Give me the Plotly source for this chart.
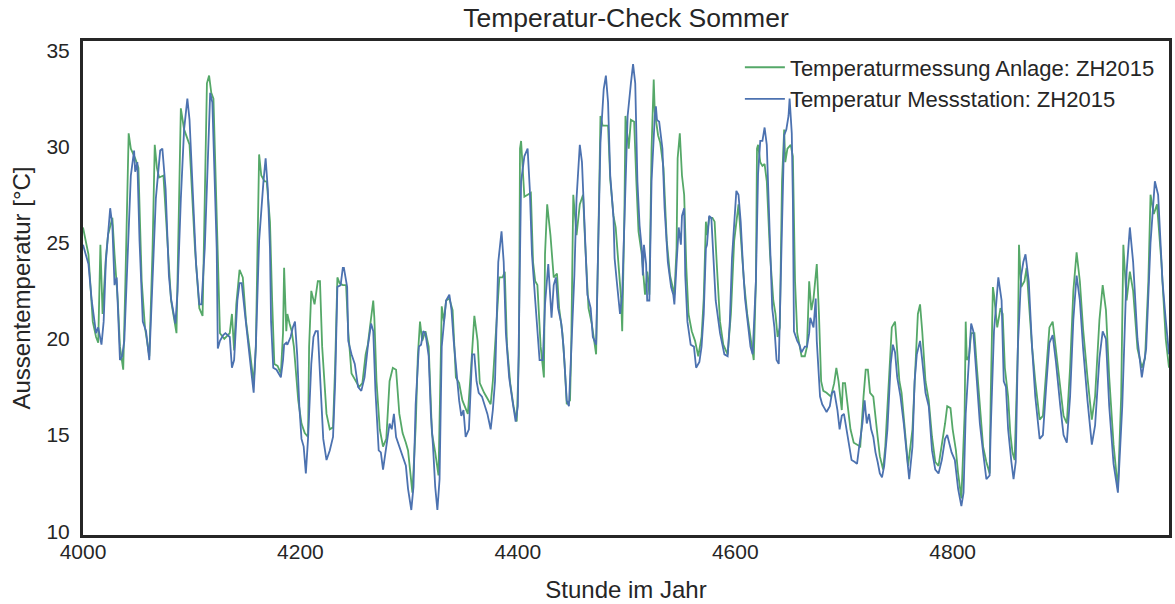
import plotly.graph_objects as go

# Temperaturmessung Anlage (green) -- hour of year / temperature
hours_anlage = [
    4000, 4005, 4009, 4012, 4014, 4016, 4018, 4021, 4023, 4027, 4029, 4032, 4034, 4037, 4039,
    4042, 4044, 4048, 4051, 4054, 4057, 4061, 4064, 4066, 4068, 4070, 4074, 4077, 4081, 4086,
    4088, 4090, 4093, 4095, 4098, 4103, 4107, 4110, 4113, 4114, 4116, 4118, 4120, 4122, 4124,
    4126, 4130, 4135, 4137, 4139, 4141, 4144, 4147, 4150, 4153, 4157, 4159, 4161, 4162, 4164,
    4167, 4169, 4172, 4174, 4176, 4179, 4182, 4184, 4185, 4187, 4188, 4190, 4192, 4194, 4198,
    4201, 4204, 4207, 4208, 4210, 4213, 4216, 4218, 4220, 4224, 4227, 4230, 4232, 4234, 4236,
    4239, 4242, 4244, 4247, 4249, 4254, 4257, 4260, 4262, 4265, 4267, 4268, 4270, 4273, 4276,
    4279, 4282, 4285, 4288, 4291, 4294, 4297, 4299, 4303, 4306, 4308, 4310, 4312, 4315, 4318,
    4321, 4324, 4327, 4329, 4330, 4332, 4334, 4337, 4340, 4343, 4346, 4349, 4354, 4357, 4360,
    4363, 4365, 4369, 4373, 4375, 4377, 4380, 4383, 4386, 4388, 4390, 4393, 4396, 4399, 4401,
    4402, 4403, 4406, 4409, 4412, 4414, 4416, 4418, 4421, 4424, 4425, 4427, 4430, 4433, 4436,
    4438, 4441, 4443, 4445, 4448, 4449, 4451, 4452, 4454, 4457, 4460, 4462, 4465, 4468, 4471,
    4472, 4475, 4476, 4478, 4479, 4483, 4485, 4488, 4490, 4492, 4495, 4496, 4498, 4499, 4501,
    4502, 4504, 4507, 4509, 4511, 4514, 4516, 4517, 4519, 4521, 4523, 4525, 4526, 4529, 4531,
    4534, 4537, 4540, 4544, 4546, 4547, 4549, 4551, 4553, 4555, 4557, 4560, 4563, 4566, 4569,
    4571, 4573, 4574, 4576, 4579, 4581, 4583, 4586, 4589, 4593, 4596, 4599, 4603, 4605, 4608,
    4611, 4614, 4617, 4619, 4620, 4621, 4623, 4625, 4627, 4629, 4632, 4635, 4637, 4639, 4641,
    4643, 4645, 4646, 4648, 4651, 4653, 4655, 4657, 4659, 4661, 4664, 4666, 4668, 4670, 4672,
    4675, 4677, 4679, 4681, 4684, 4688, 4691, 4693, 4695, 4698, 4699, 4701, 4703, 4706, 4709,
    4712, 4715, 4718, 4720, 4722, 4724, 4727, 4729, 4731, 4733, 4736, 4738, 4741, 4744, 4747,
    4751, 4753, 4756, 4759, 4763, 4766, 4768, 4770, 4772, 4775, 4778, 4781, 4784, 4787, 4790,
    4793, 4795, 4798, 4800, 4803, 4805, 4808, 4811, 4812, 4813, 4815, 4817, 4820, 4822, 4825,
    4828, 4831, 4834, 4835, 4837, 4838, 4841, 4844, 4846, 4848, 4851, 4853, 4855, 4857, 4860,
    4861, 4863, 4866, 4868, 4870, 4873, 4876, 4880, 4883, 4886, 4889, 4892, 4895, 4899, 4902,
    4905, 4908, 4911, 4914, 4917, 4920, 4924, 4928, 4931, 4935, 4938, 4941, 4944, 4948, 4952,
    4955, 4957, 4960, 4963, 4966, 4970, 4974, 4977, 4980, 4982, 4985, 4988, 4992, 4996, 4999,
]
temp_anlage = [
    25.8, 24.4, 20.9, 20.1, 19.8, 24.9, 21.3, 24.2, 25.4, 26.3, 24.4, 22.0, 19.6, 18.4, 23.0,
    30.7, 29.9, 29.4, 28.9, 23.0, 20.6, 19.1, 24.7, 30.1, 28.9, 28.4, 28.5, 25.6, 22.0, 20.3,
    26.4, 32.0, 30.9, 30.6, 30.1, 24.7, 21.6, 21.2, 29.0, 33.3, 33.7, 32.8, 32.5, 28.2, 24.2,
    20.3, 20.0, 20.3, 21.3, 19.4, 21.8, 23.6, 23.2, 20.9, 19.6, 17.7, 19.6, 25.8, 29.6, 28.5,
    28.2, 28.2, 26.1, 22.0, 18.7, 18.6, 18.2, 20.3, 23.7, 20.4, 21.3, 20.8, 20.4, 19.6, 16.8,
    15.6, 15.1, 14.9, 19.6, 22.5, 21.8, 23.0, 23.0, 19.6, 16.1, 15.3, 15.4, 18.7, 23.2, 22.9,
    22.8, 22.8, 20.4, 18.2, 18.0, 17.5, 17.7, 19.2, 19.7, 21.3, 22.0, 21.1, 17.8, 15.3, 14.4,
    14.8, 17.8, 18.5, 18.4, 16.1, 15.1, 14.6, 14.2, 12.0, 15.4, 19.1, 20.9, 19.9, 20.4, 19.6,
    15.1, 14.1, 12.9, 18.7, 21.7, 20.9, 22.0, 22.1, 21.5, 18.0, 17.7, 16.8, 16.1, 18.5, 21.2,
    19.9, 17.7, 17.2, 16.8, 16.6, 17.8, 20.6, 23.2, 23.2, 23.5, 19.7, 17.7, 16.5, 15.7, 19.2,
    29.9, 30.3, 27.4, 27.5, 27.6, 24.0, 23.0, 22.8, 19.6, 18.0, 24.4, 27.0, 25.4, 23.2, 23.4,
    21.6, 20.3, 18.7, 16.6, 16.8, 19.1, 27.5, 26.6, 25.4, 27.0, 27.5, 24.9, 21.6, 20.8, 19.6,
    19.2, 28.2, 31.6, 31.1, 31.1, 31.1, 28.3, 26.4, 25.8, 24.4, 22.1, 20.4, 26.4, 31.6, 30.4,
    29.9, 31.4, 31.3, 28.2, 25.6, 24.4, 23.0, 22.3, 23.5, 22.3, 29.9, 33.5, 31.8, 30.6, 30.2,
    28.9, 25.1, 23.3, 22.3, 24.7, 29.4, 30.7, 28.5, 27.5, 23.7, 21.3, 20.4, 19.9, 19.1, 20.1,
    22.1, 26.1, 25.4, 26.3, 26.3, 26.1, 23.9, 20.9, 19.7, 19.2, 21.3, 25.1, 27.0, 25.4, 23.0,
    21.3, 20.1, 18.9, 23.0, 29.9, 30.1, 29.2, 29.0, 29.1, 28.2, 24.4, 22.0, 21.3, 20.1, 20.6,
    28.2, 30.9, 29.2, 29.9, 30.1, 29.5, 23.0, 20.3, 19.7, 19.1, 19.1, 19.6, 23.0, 21.5, 22.1,
    23.9, 21.3, 17.8, 17.3, 17.2, 17.0, 17.7, 18.5, 17.8, 16.3, 17.7, 17.7, 16.8, 15.3, 14.6,
    14.5, 14.4, 17.0, 18.4, 18.4, 17.2, 17.0, 16.1, 14.9, 13.9, 13.2, 14.4, 17.8, 20.6, 20.9,
    17.8, 17.2, 15.3, 13.4, 15.3, 18.7, 21.3, 21.8, 20.4, 17.8, 16.8, 14.9, 13.6, 13.4, 14.4,
    15.6, 16.5, 16.4, 15.3, 14.2, 13.0, 11.7, 16.1, 20.9, 18.9, 19.1, 20.3, 20.3, 18.7, 16.5,
    14.4, 13.6, 13.0, 17.0, 22.7, 22.3, 20.6, 21.6, 21.3, 18.5, 17.0, 15.1, 14.1, 13.7, 19.6,
    24.9, 22.7, 23.0, 23.7, 22.0, 19.6, 17.8, 15.8, 16.0, 18.5, 20.6, 20.9, 19.5, 17.5, 16.0,
    15.6, 18.5, 22.5, 24.5, 23.0, 20.5, 18.0, 15.8, 17.0, 21.0, 22.8, 21.5, 18.0, 14.5, 12.2,
    17.0, 24.9, 22.0, 23.5, 22.5, 19.5, 18.5, 19.0, 23.0, 27.5, 26.5, 27.0, 24.0, 20.0, 18.5,
]

# Temperatur Messstation (blue)
hours_station = [
    4000, 4005, 4008, 4012, 4014, 4017, 4019, 4021, 4025, 4027, 4029, 4031, 4034, 4036, 4038,
    4041, 4044, 4047, 4048, 4050, 4052, 4055, 4058, 4061, 4064, 4067, 4071, 4073, 4076, 4079,
    4081, 4085, 4087, 4090, 4093, 4096, 4098, 4101, 4104, 4107, 4109, 4112, 4115, 4117, 4119,
    4120, 4123, 4124, 4126, 4129, 4131, 4135, 4137, 4139, 4142, 4144, 4146, 4149, 4152, 4155,
    4157, 4159, 4162, 4165, 4166, 4168, 4170, 4172, 4173, 4175, 4178, 4180, 4182, 4184, 4185,
    4187, 4188, 4191, 4193, 4195, 4197, 4199, 4201, 4203, 4205, 4207, 4210, 4212, 4214, 4216,
    4219, 4221, 4224, 4227, 4230, 4232, 4234, 4237, 4239, 4240, 4243, 4244, 4247, 4250, 4253,
    4256, 4259, 4262, 4265, 4267, 4269, 4272, 4274, 4276, 4279, 4282, 4284, 4286, 4288, 4291,
    4294, 4297, 4299, 4302, 4304, 4306, 4309, 4311, 4313, 4315, 4318, 4320, 4322, 4324, 4326,
    4328, 4330, 4332, 4334, 4337, 4339, 4341, 4344, 4346, 4348, 4350, 4352, 4355, 4358, 4360,
    4362, 4364, 4367, 4370, 4372, 4375, 4377, 4379, 4380, 4382, 4385, 4387, 4389, 4392, 4395,
    4398, 4400, 4402, 4403, 4406, 4409, 4411, 4413, 4416, 4418, 4420, 4423, 4425, 4428, 4430,
    4431, 4433, 4435, 4437, 4440, 4442, 4445, 4447, 4449, 4452, 4454, 4457, 4459, 4461, 4464,
    4467, 4469, 4472, 4474, 4476, 4479, 4481, 4483, 4485, 4488, 4489, 4491, 4494, 4496, 4499,
    4501, 4504, 4506, 4508, 4510, 4512, 4514, 4515, 4516, 4518, 4519, 4521, 4523, 4526, 4527,
    4528, 4530, 4533, 4535, 4538, 4541, 4543, 4544, 4546, 4548, 4550, 4551, 4553, 4554, 4556,
    4559, 4562, 4564, 4567, 4569, 4571, 4573, 4574, 4576, 4578, 4580, 4582, 4586, 4588, 4590,
    4593, 4595, 4597, 4600, 4601, 4603, 4605, 4607, 4609, 4612, 4614, 4616, 4619, 4621, 4623,
    4625, 4627, 4629, 4632, 4634, 4636, 4638, 4640, 4642, 4645, 4647, 4649, 4650, 4652, 4653,
    4654, 4657, 4659, 4661, 4664, 4666, 4668, 4669, 4672, 4674, 4675, 4678, 4680, 4682, 4684,
    4687, 4689, 4691, 4694, 4696, 4698, 4700, 4703, 4705, 4707, 4710, 4712, 4714, 4717, 4719,
    4721, 4723, 4725, 4727, 4729, 4731, 4733, 4735, 4737, 4740, 4743, 4745, 4747, 4749, 4752,
    4755, 4758, 4760, 4763, 4765, 4767, 4770, 4772, 4775, 4778, 4781, 4784, 4787, 4790, 4793,
    4795, 4797, 4799, 4802, 4805, 4808, 4810, 4812, 4815, 4817, 4819, 4822, 4825, 4828, 4831,
    4834, 4835, 4838, 4840, 4842, 4845, 4847, 4849, 4851, 4854, 4856, 4858, 4860, 4863, 4865,
    4867, 4870, 4873, 4876, 4880, 4883, 4886, 4889, 4892, 4895, 4899, 4902, 4905, 4908, 4911,
    4914, 4917, 4920, 4924, 4928, 4931, 4935, 4938, 4941, 4944, 4948, 4952, 4956, 4960, 4963,
    4966, 4970, 4974, 4978, 4982, 4986, 4989, 4993, 4996, 4999,
]
temp_station = [
    24.9, 23.9, 22.0, 20.3, 20.6, 19.7, 20.9, 24.0, 26.8, 25.9, 22.8, 23.2, 18.9, 19.1, 19.9,
    24.0, 28.5, 29.8, 28.7, 29.2, 25.1, 20.9, 20.4, 18.9, 23.0, 27.3, 29.8, 29.9, 27.8, 23.3,
    22.1, 20.8, 22.5, 27.3, 30.9, 32.5, 31.4, 27.3, 23.9, 21.8, 21.8, 24.7, 29.9, 32.8, 32.3,
    30.4, 24.7, 19.5, 19.9, 20.2, 20.3, 20.1, 18.5, 18.9, 22.0, 22.9, 22.9, 21.3, 19.9, 18.2,
    17.2, 19.6, 25.1, 27.8, 28.2, 29.4, 27.8, 24.7, 20.9, 18.5, 18.4, 18.2, 18.0, 18.9, 19.7,
    19.8, 19.7, 20.1, 20.6, 20.9, 19.2, 16.5, 14.8, 14.4, 13.0, 14.8, 18.7, 20.1, 20.4, 20.4,
    17.0, 14.8, 13.7, 14.2, 14.9, 17.8, 22.7, 22.8, 23.7, 23.7, 22.7, 19.9, 19.2, 18.7, 17.5,
    17.3, 18.0, 19.6, 20.8, 20.4, 17.3, 14.2, 14.1, 13.2, 14.4, 15.6, 15.3, 16.1, 14.9, 14.4,
    13.9, 13.4, 12.2, 11.1, 12.3, 16.6, 19.6, 19.7, 20.4, 20.3, 19.1, 16.1, 14.4, 12.3, 11.1,
    12.7, 19.6, 20.9, 22.0, 22.3, 21.5, 19.9, 18.0, 16.8, 16.0, 16.3, 14.9, 15.3, 19.2, 19.2,
    17.8, 17.2, 17.0, 16.5, 16.1, 15.3, 16.3, 17.8, 20.3, 24.0, 25.6, 24.0, 20.3, 18.0, 16.8,
    15.7, 16.5, 23.0, 28.2, 29.5, 29.9, 27.8, 24.4, 22.0, 20.6, 18.9, 18.9, 21.8, 23.9, 22.3,
    21.1, 22.8, 23.2, 21.6, 20.8, 19.6, 16.8, 16.5, 18.9, 23.3, 27.3, 30.1, 29.2, 26.1, 22.3,
    21.6, 20.1, 19.7, 24.7, 30.2, 33.0, 33.7, 32.3, 28.5, 26.3, 24.2, 23.0, 21.3, 22.3, 27.8,
    31.6, 33.3, 34.3, 33.3, 28.2, 25.9, 24.7, 23.3, 24.9, 23.9, 22.0, 22.0, 28.2, 31.6, 32.1,
    31.4, 31.3, 29.9, 26.8, 24.0, 22.7, 22.3, 21.8, 23.9, 25.8, 24.9, 26.4, 26.8, 23.3, 20.9,
    19.7, 19.6, 18.5, 18.8, 19.6, 21.3, 24.7, 24.9, 26.4, 26.3, 24.4, 22.0, 20.3, 19.7, 19.2,
    19.1, 20.9, 24.2, 27.0, 27.7, 27.5, 26.1, 23.9, 22.1, 20.6, 19.6, 19.2, 23.0, 28.6, 30.3,
    30.3, 31.0, 30.1, 25.1, 21.6, 20.6, 18.9, 18.7, 23.0, 30.6, 30.9, 31.6, 32.5, 30.7, 27.3,
    20.4, 19.9, 19.7, 19.3, 19.6, 19.6, 20.3, 21.1, 20.6, 22.1, 19.9, 17.0, 16.6, 16.4, 16.2,
    16.5, 17.2, 17.3, 16.3, 15.3, 16.0, 16.1, 15.1, 14.2, 13.7, 13.6, 13.5, 14.4, 15.6, 16.8,
    15.6, 16.1, 15.3, 14.9, 14.1, 13.6, 13.0, 12.8, 13.4, 15.3, 18.7, 19.7, 19.3, 18.0, 17.0,
    15.6, 13.6, 12.7, 14.4, 17.8, 19.2, 19.9, 18.9, 17.2, 16.5, 14.2, 13.2, 13.0, 13.7, 14.8,
    15.0, 14.6, 14.1, 13.7, 12.2, 11.3, 12.0, 16.1, 19.1, 20.8, 20.4, 17.8, 15.6, 14.1, 12.7,
    12.9, 15.3, 20.4, 22.0, 23.2, 22.0, 17.8, 17.5, 15.3, 13.6, 12.7, 13.6, 19.6, 23.3, 24.0,
    24.4, 23.0, 19.6, 17.0, 14.8, 15.0, 17.5, 19.8, 20.2, 18.8, 16.5, 15.0, 14.6, 17.0, 21.0,
    23.3, 22.0, 19.5, 16.8, 14.5, 15.5, 19.0, 20.4, 20.0, 16.5, 13.5, 12.0, 16.5, 23.5, 25.8,
    24.0, 20.0, 18.0, 19.5, 25.0, 28.2, 27.5, 23.0, 21.0, 19.2,
]

x_ticks = [4000, 4200, 4400, 4600, 4800]
y_ticks = [10, 15, 20, 25, 30, 35]

TEXT = "#262626"
FONT = "Liberation Sans, Arial, sans-serif"

fig = go.Figure()
fig.add_trace(go.Scatter(
    x=hours_anlage, y=temp_anlage, mode="lines",
    name="Temperaturmessung Anlage: ZH2015",
    line=dict(color="#55A868", width=1.8),
))
fig.add_trace(go.Scatter(
    x=hours_station, y=temp_station, mode="lines",
    name="Temperatur Messstation: ZH2015",
    line=dict(color="#4C72B0", width=1.8),
))

fig.update_layout(
    width=1175, height=604,
    margin=dict(l=83, r=6, t=41, b=69, autoexpand=False),
    paper_bgcolor="white", plot_bgcolor="white",
    font=dict(family=FONT, color=TEXT, size=22),
    title=dict(text="Temperatur-Check Sommer", x=0.5, xref="paper", xanchor="center",
               y=0.970, yref="container", yanchor="middle",
               font=dict(size=26.5, color=TEXT, family=FONT)),
    showlegend=True,
    legend=dict(x=0.9916, xanchor="right", y=0.989, yanchor="top",
                bgcolor="rgba(0,0,0,0)", borderwidth=0,
                font=dict(size=22, color=TEXT, family=FONT),
                tracegroupgap=0, itemwidth=40),
    xaxis=dict(range=[4000, 4999], tickvals=x_ticks, showgrid=False, zeroline=False,
               showline=True, linecolor=TEXT, linewidth=3, mirror=True, ticks="",
               automargin=False,
               tickfont=dict(size=21), ticklabelstandoff=-4,
               title=dict(text="Stunde im Jahr", font=dict(size=24), standoff=19)),
    yaxis=dict(range=[9.8, 35.5], tickvals=y_ticks, showgrid=False, zeroline=False,
               showline=True, linecolor=TEXT, linewidth=3, mirror=True, ticks="",
               automargin=False,
               tickfont=dict(size=21), ticklabelstandoff=6,
               title=dict(text="Aussentemperatur [°C]", font=dict(size=24), standoff=10)),
)

# page without the default 8px body margin so the figure sits at the window origin
fig.write_html("out.html", config={"displayModeBar": False},
               post_script="document.body.style.margin='0';")
